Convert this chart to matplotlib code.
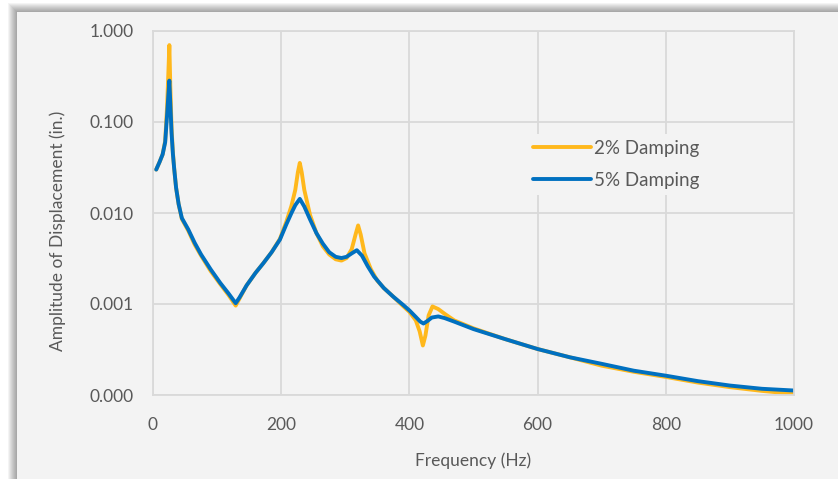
import matplotlib
matplotlib.use("Agg")
import matplotlib.pyplot as plt
from matplotlib.patches import Rectangle
from matplotlib.ticker import FixedLocator, FuncFormatter, NullLocator

plt.rcParams['font.family'] = ['Lato', 'DejaVu Sans']

# ---- data ----
freq_5 = [5, 10, 15, 19, 22, 24, 25.5, 27, 29, 31, 33, 36, 40, 45, 55, 65, 75, 90, 105, 118,
          129, 135, 146, 160, 172, 185, 198, 208, 216, 222, 229, 236, 245, 255, 265, 275, 285,
          294, 302, 310, 318, 326, 335, 345, 360, 375, 390, 400, 410, 417, 422, 428, 435, 445,
          455, 470, 500, 550, 600, 650, 700, 750, 800, 850, 900, 950, 1000]
amp_5 = [0.030, 0.036, 0.044, 0.060, 0.12, 0.20, 0.285, 0.16, 0.075, 0.045, 0.031, 0.019,
         0.0125, 0.0088, 0.0066, 0.0047, 0.0035, 0.0024, 0.0017, 0.0013,
         0.00102, 0.00118, 0.0016, 0.0022, 0.0028, 0.0037, 0.0051, 0.0075, 0.0100, 0.0122,
         0.0143, 0.0118, 0.0085, 0.0060, 0.0046, 0.0037, 0.0033,
         0.0032, 0.0033, 0.0036, 0.0039, 0.0034, 0.0026, 0.0020, 0.0015, 0.0012, 0.00098,
         0.00085, 0.00072, 0.00064, 0.00061, 0.00065, 0.00071, 0.00073,
         0.00070, 0.00064, 0.00053, 0.00041, 0.00032, 0.00026, 0.00022, 0.000185, 0.000163,
         0.000142, 0.000127, 0.000117, 0.000112]

freq_2 = [5, 10, 15, 19, 22, 24, 25.5, 27, 29, 31, 33, 36, 40, 45, 55, 65, 75, 90, 105, 118,
          129, 135, 146, 160, 172, 185, 198, 208, 216, 222, 226, 229, 232, 236, 245, 255, 265,
          275, 285, 294, 302, 310, 316, 320, 324, 330, 340, 350, 360, 375, 390, 400, 410, 416,
          421, 425, 430, 436, 445, 455, 470, 500, 550, 600, 650, 700, 750, 800, 850, 900, 950, 1000]
amp_2 = [0.030, 0.036, 0.044, 0.062, 0.15, 0.35, 0.70, 0.25, 0.085, 0.047, 0.031, 0.019,
         0.0125, 0.0086, 0.0064, 0.0045, 0.0034, 0.0023, 0.00165, 0.00125,
         0.00096, 0.00115, 0.0016, 0.0022, 0.0028, 0.0037, 0.0052, 0.0080, 0.0120, 0.0180,
         0.028, 0.0355, 0.028, 0.018, 0.0095, 0.0060, 0.0043,
         0.0035, 0.0031, 0.0030, 0.0032, 0.0040, 0.0058, 0.0073, 0.0058, 0.0036, 0.0024,
         0.0018, 0.0015, 0.0012, 0.00095, 0.00082, 0.00066, 0.00050,
         0.00035, 0.00045, 0.00075, 0.00094, 0.00088, 0.00078, 0.00066, 0.00054, 0.00041,
         0.00032, 0.00026, 0.00021, 0.000180, 0.000158, 0.000137, 0.000122, 0.000111, 0.000103]

series_labels = ["2% Damping", "5% Damping"]
x_ticks = [0, 200, 400, 600, 800, 1000]
y_ticks = [0.0001, 0.001, 0.01, 0.1, 1.0]
x_title = "Frequency (Hz)"
y_title = "Amplitude of Displacement (in.)"

# ---- figure ----
W, H = 838, 479
fig = plt.figure(figsize=(W / 100, H / 100), dpi=100)
fig.patch.set_facecolor("white")

def px_rect(x0, y0, x1, y1, **kw):
    r = Rectangle((x0 / W, 1 - y1 / H), (x1 - x0) / W, (y1 - y0) / H,
                  transform=fig.transFigure, **kw)
    fig.add_artist(r)
    return r

card_x, card_y = 17, 12
# soft shadow
for i in range(9, 0, -1):
    px_rect(card_x - i, card_y - i, W + 20, H + 20, facecolor="black",
            edgecolor="none", alpha=0.045, zorder=-3)
px_rect(card_x, card_y, W + 20, H + 20, facecolor="#f3f3f3", edgecolor="none", zorder=-2)

ax = fig.add_axes([153 / W, 1 - 395 / H, (794 - 153) / W, (395 - 31) / H])
ax.set_zorder(1)
ax.set_facecolor("#f3f3f3")
ax.set_yscale("log")
ax.set_xlim(0, 1000)
ax.set_ylim(0.0001, 1.0)

grid_c = "#d9d9d9"
ax.xaxis.set_major_locator(FixedLocator(x_ticks))
ax.yaxis.set_major_locator(FixedLocator(y_ticks))
ax.yaxis.set_minor_locator(NullLocator())
ax.yaxis.set_major_formatter(FuncFormatter(lambda v, p: f"{v:.3f}"))
ax.xaxis.set_major_formatter(FuncFormatter(lambda v, p: f"{v:.0f}"))
ax.grid(True, color=grid_c, linewidth=1.3)
ax.set_axisbelow(True)
for s in ax.spines.values():
    s.set_color(grid_c)
    s.set_linewidth(1.3)

txt_c = "#595959"
ax.tick_params(axis="both", length=0, labelsize=12.5, labelcolor=txt_c)
ax.tick_params(axis="y", pad=14)
ax.tick_params(axis="x", pad=16)

ax.plot(freq_2, amp_2, color="#FFB81C", linewidth=2.8, label=series_labels[0],
        solid_joinstyle="round", solid_capstyle="round")
ax.plot(freq_5, amp_5, color="#0070C0", linewidth=2.8, label=series_labels[1],
        solid_joinstyle="round", solid_capstyle="round")

ax.set_xlabel(x_title, fontsize=12.5, color=txt_c)
ax.set_ylabel(y_title, fontsize=12.5, color=txt_c)
ax.xaxis.set_label_coords(0.5, -0.158)
ax.yaxis.set_label_coords(-0.135, 0.45)

leg = ax.legend(loc="upper left", bbox_to_anchor=(518 / W, 1 - 125 / H),
                bbox_transform=fig.transFigure, frameon=True, fontsize=13.5,
                handlelength=3.1, handletextpad=0.15, labelspacing=0.8,
                borderpad=0.3, facecolor="#f3f3f3", edgecolor="none", framealpha=1)
for t in leg.get_texts():
    t.set_color(txt_c)

fig.savefig("out.png", dpi=100, facecolor=fig.get_facecolor())
